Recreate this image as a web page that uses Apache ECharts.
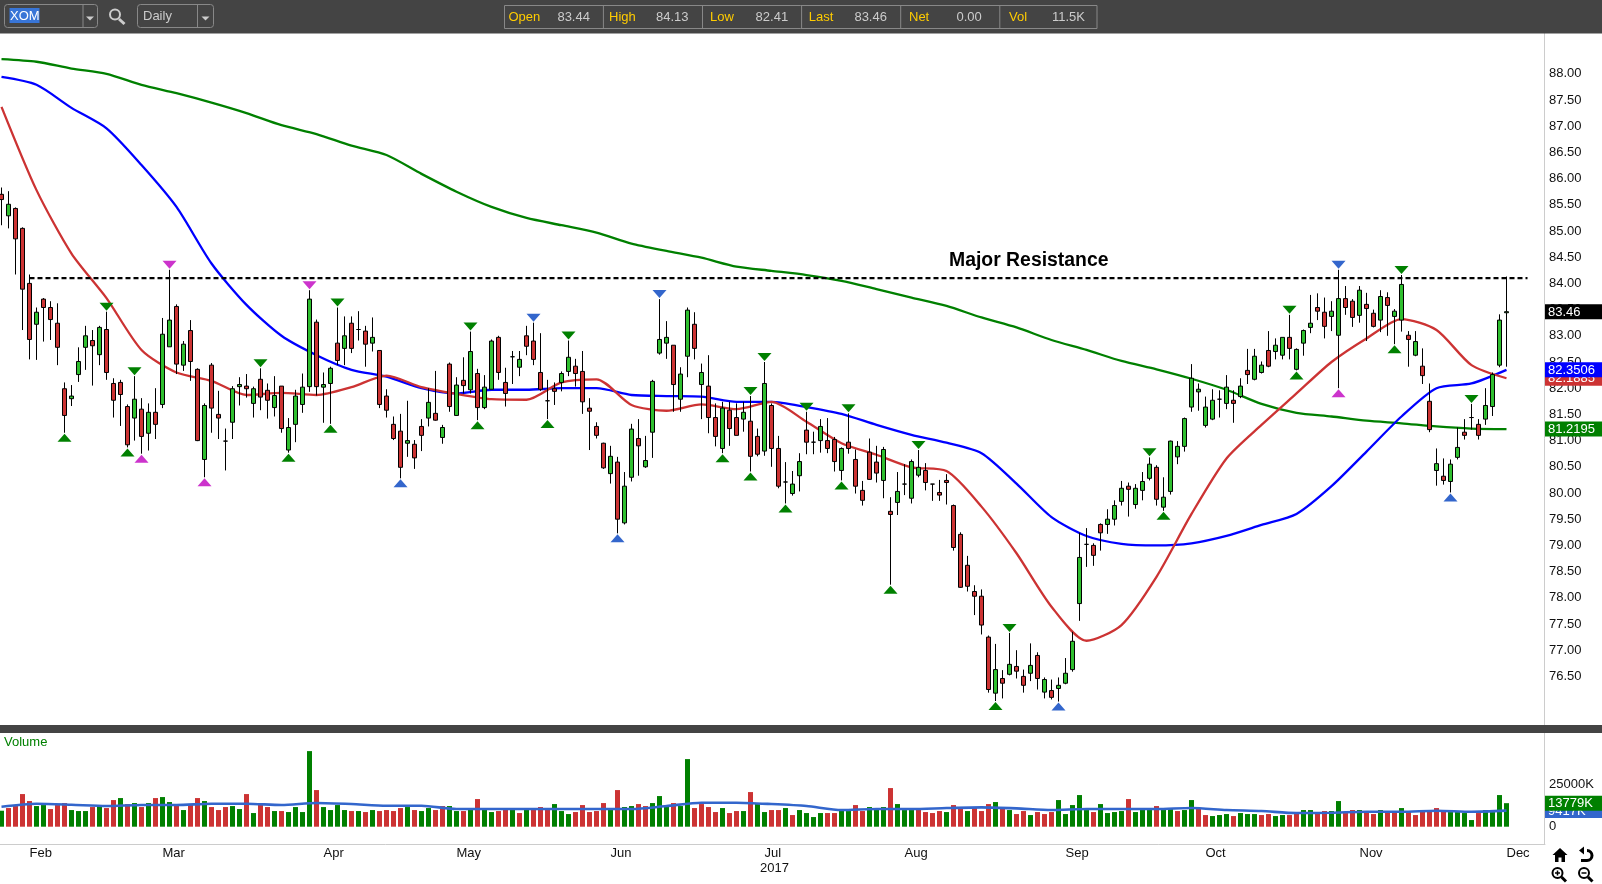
<!DOCTYPE html>
<html><head><meta charset="utf-8">
<style>html,body{margin:0;padding:0;background:#fff}#c{width:1602px;height:884px}</style>
<script src="https://cdn.jsdelivr.net/npm/echarts@6/dist/echarts.min.js"></script>
</head><body><div id="c"></div>
<script>
const tradingDaysPerMonth = [['Jan',4],['Feb',19],['Mar',23],['Apr',19],['May',22],['Jun',22],['Jul',20],['Aug',23],['Sep',20],['Oct',22],['Nov',21],['Dec',1]];
const emptySlotsOnRight = 5;
const open = [85.70,85.29,85.43,85.05,84.00,83.22,83.70,83.54,83.24,81.99,
81.80,82.26,82.78,82.91,82.64,83.12,82.09,82.11,81.65,81.43,
81.60,81.14,81.54,81.69,82.79,83.56,82.44,83.10,82.36,80.64,
82.44,81.50,80.99,81.35,82.03,82.04,81.71,82.17,81.96,81.63,
82.04,80.82,81.31,81.69,82.03,83.26,82.02,82.09,82.86,82.76,
83.24,83.12,83.09,82.86,82.72,81.85,81.31,81.18,80.95,80.93,
81.27,81.43,81.52,81.06,82.46,81.48,82.15,81.97,82.28,81.63,
81.98,82.97,82.11,82.60,82.40,83.00,82.90,82.30,81.76,81.99,
82.11,82.32,82.42,82.32,81.62,81.27,80.95,80.37,80.59,79.43,
80.30,81.04,80.50,81.16,82.67,82.86,82.82,81.79,82.61,83.22,
82.07,82.04,81.44,80.85,81.58,81.44,81.41,81.37,81.08,80.80,
81.67,80.85,80.21,79.99,80.33,81.20,80.97,81.00,81.00,81.02,
80.43,80.97,80.64,80.05,80.78,80.59,80.24,79.65,79.82,80.17,
79.90,80.34,80.43,80.17,80.01,80.24,79.76,79.21,78.62,78.12,
78.03,77.25,76.18,76.46,76.54,76.69,76.50,76.56,76.90,76.20,
76.23,76.27,76.37,76.63,77.89,79.02,79.00,79.40,79.40,79.50,
79.84,80.13,79.78,80.05,80.28,80.49,79.73,80.03,80.69,80.89,
81.64,81.93,81.29,81.41,81.79,81.71,81.77,81.84,82.34,82.17,
82.30,82.72,82.70,82.63,82.97,82.36,82.86,83.16,83.54,83.45,
83.37,83.01,83.71,83.66,83.39,83.60,83.43,83.30,83.73,83.37,
83.30,83.01,82.63,82.42,81.75,80.43,80.32,80.22,80.68,81.16,
81.44,81.31,81.41,81.65,82.44,83.44];
const close = [85.60,85.51,84.85,83.89,82.93,83.45,83.54,83.31,82.78,81.48,
81.85,82.51,83.00,82.81,83.16,82.30,81.77,81.88,80.92,81.79,
81.08,81.54,81.31,83.03,83.30,82.46,82.84,82.51,81.00,81.67,
81.62,81.43,80.99,81.99,82.07,81.99,81.99,81.83,81.77,81.86,
81.23,81.25,81.85,82.02,83.70,82.03,82.07,82.38,82.53,83.00,
82.76,83.12,82.84,82.97,81.69,81.58,81.04,80.49,81.00,80.67,
81.10,81.73,81.39,81.25,81.65,82.06,82.05,82.70,81.63,82.02,
82.90,82.30,81.90,82.60,82.55,82.80,82.55,81.98,81.76,81.94,
82.28,82.59,82.28,81.74,81.56,81.10,80.48,80.70,79.50,80.13,
81.22,80.90,80.62,82.13,82.93,82.97,82.07,82.27,83.49,82.76,
82.30,81.44,81.08,81.62,81.23,81.10,81.54,80.70,80.74,82.09,
80.85,80.13,80.21,80.17,80.60,80.97,80.97,81.27,80.85,80.60,
80.85,80.85,80.13,79.86,80.26,80.38,80.83,79.59,80.03,80.17,
80.60,80.49,80.20,80.17,79.96,80.20,78.96,78.20,78.22,78.03,
77.48,76.25,76.63,76.37,76.73,76.60,76.33,76.71,76.46,76.44,
76.10,76.33,76.56,77.17,78.77,79.02,78.81,79.24,79.50,79.76,
80.09,80.07,80.09,80.22,80.55,79.88,79.92,80.99,80.89,81.42,
82.19,81.98,81.64,81.77,81.79,82.02,81.71,82.04,82.26,82.61,
82.44,82.42,82.82,82.97,82.76,82.74,83.10,83.24,83.47,83.18,
83.47,83.71,83.54,83.35,83.87,83.52,83.18,83.75,83.58,83.47,
83.98,82.93,82.89,82.24,81.21,80.56,80.24,80.55,80.87,81.10,
81.44,81.10,81.67,82.26,83.30,83.46];
const high = [85.83,85.76,85.45,85.07,84.17,83.54,83.72,83.66,83.62,82.11,
82.06,82.78,83.19,83.11,83.19,83.46,82.19,82.16,81.69,82.23,
81.81,81.71,82.00,83.34,84.26,83.60,82.90,83.30,82.38,81.71,
82.48,81.95,81.23,82.04,82.21,82.27,82.03,82.38,82.09,82.23,
82.04,81.43,81.97,82.28,83.87,83.31,82.30,82.41,83.54,83.37,
83.37,83.47,83.19,83.35,82.72,81.98,81.46,81.51,81.76,81.01,
81.41,82.00,82.33,81.30,82.49,82.21,82.59,83.08,82.37,82.25,
82.93,83.00,82.39,82.71,82.71,83.19,83.25,83.05,82.16,82.11,
82.32,82.91,82.56,82.71,81.81,81.35,80.96,80.90,80.69,80.40,
81.32,81.41,81.09,82.16,83.70,83.28,82.82,82.40,83.54,83.45,
82.47,82.63,81.71,81.74,81.74,81.71,81.74,81.85,81.23,82.50,
81.71,81.09,80.59,80.42,80.76,81.55,81.17,81.41,81.43,81.07,
80.87,81.52,80.83,80.23,81.04,80.90,80.88,79.92,80.40,80.55,
80.64,80.82,80.57,80.17,80.25,80.36,79.78,79.25,78.80,78.24,
78.16,77.28,77.12,76.62,77.33,77.00,76.63,77.13,76.96,76.48,
76.44,76.48,76.85,77.35,79.24,79.33,79.04,79.42,79.69,79.86,
80.23,80.20,80.17,80.40,80.68,80.53,80.30,81.00,80.99,81.44,
82.46,82.09,81.84,81.98,81.96,82.25,81.96,82.19,82.75,82.75,
82.51,83.09,82.95,82.97,83.40,82.76,83.12,83.78,83.81,83.73,
83.66,84.26,83.95,83.70,83.95,83.82,83.50,83.87,83.83,83.51,
84.16,83.09,83.09,82.76,82.09,80.85,80.66,80.64,81.25,81.41,
81.70,81.41,82.00,82.30,83.41,84.13];
const low = [85.11,85.05,84.17,83.11,82.55,82.54,82.89,82.92,82.44,81.15,
81.66,82.12,82.35,82.05,82.44,82.16,81.44,81.28,80.87,81.00,
80.75,80.81,81.03,81.62,82.79,82.27,82.33,82.14,80.99,80.30,
81.15,81.03,80.43,81.03,81.67,81.82,81.44,81.58,81.42,81.46,
81.15,80.77,80.97,81.53,81.93,81.86,81.34,81.32,82.44,82.44,
82.67,82.91,82.41,82.70,81.62,81.44,81.01,80.28,80.69,80.46,
80.80,81.27,81.38,80.94,81.55,81.47,81.90,81.90,81.39,81.60,
81.98,82.16,81.65,82.08,82.23,82.63,82.44,81.95,81.41,81.68,
81.94,82.23,82.03,81.51,80.82,81.04,80.46,80.18,79.23,79.40,
80.22,80.33,80.48,80.67,82.64,82.56,81.55,81.55,82.21,82.55,
81.41,81.14,80.89,80.76,80.90,81.10,81.17,80.41,80.70,80.71,
80.50,80.09,79.80,79.95,80.03,80.74,80.74,80.77,80.76,80.41,
80.24,80.75,79.99,79.76,80.25,80.20,79.90,78.25,79.58,79.96,
79.80,80.30,80.05,79.85,79.85,79.78,78.90,78.19,78.12,77.67,
77.30,76.19,76.03,76.08,76.52,76.46,76.19,76.41,76.25,76.08,
76.06,76.02,76.35,76.59,77.56,78.59,78.61,78.90,79.22,79.38,
79.76,79.55,79.70,79.86,80.24,79.76,79.66,79.97,80.55,80.79,
81.55,81.57,81.25,81.39,81.44,81.60,81.34,81.81,82.08,82.15,
82.28,82.40,82.55,82.55,82.55,82.34,82.62,83.05,83.30,82.95,
83.09,82.00,83.40,83.17,83.25,82.90,83.16,83.07,83.00,82.84,
83.08,82.41,82.61,82.08,81.16,80.14,80.16,80.01,80.64,81.02,
81.21,81.02,81.30,81.47,82.40,82.41];
const volumeK = [9360,10920,12090,19110,15015,12090,12675,10335,12675,13845,
9750,9165,9165,11505,12090,10920,15600,16770,13260,13845,
11505,13845,16770,17355,14430,12675,9750,12675,16770,15015,
11505,9750,11505,12090,10335,19110,7995,13260,11505,9165,
9165,8580,11505,8580,44265,21450,11505,9750,12675,9750,
9165,9165,8580,9750,9165,9750,9165,10920,11505,9750,
9165,10920,9750,12090,12090,9165,9165,10335,16185,10335,
8580,9165,10335,10335,7995,10335,10335,11505,10335,13260,
9165,7410,8580,12675,8580,9165,13845,10335,21450,11505,
12090,13260,12090,13845,17940,12090,13845,12090,39585,10920,
13260,11505,8580,10920,7995,9165,9165,20280,13845,8580,
9750,9750,10920,6825,9750,7995,5655,7995,7995,7995,
9750,9165,12675,9165,11505,10335,11505,22620,13260,9750,
9750,10335,8580,7995,9165,8580,12675,10920,9165,10920,
9165,13260,14430,10920,9750,7410,9165,6825,8580,7410,
8580,15600,7410,12675,18525,9750,8580,13260,7995,8580,
9165,16185,8580,10335,10335,12090,10335,10335,9165,9750,
15600,10920,6825,6240,6825,7410,6240,7995,7410,7410,
6825,7410,6240,6825,6825,7995,9750,9750,7995,9165,
9165,15015,7995,9750,9750,8580,7410,9750,8580,8580,
10920,8580,6825,9165,9165,10920,9165,8580,8580,7995,
3900,7995,9750,8580,18525,13779];
const volumeDirection = ('GRRRRGGRRR'+'GGGRGRRGRG'+'RGRGGRGRRG'+'RRRGGRGRRG'+'RGGGGRGGGG'+'RGRGRRRRGR'+'GGRRGGRGRG'+'GRRGRGRRRG'+'GGRRRRRGRG'+'GRRGGGRGGR'+'RRRGRRGRGG'+'RRGRGGGGRR'+'GGRRGGGRGG'+'GRRRRGRRGR'+'RRGRGRRGRR'+'RGGGGGRGGG'+'GRGGGRGGRG'+'GRRGGGRGGG'+'RRGGRRGGRR'+'GGRRGRRGRR'+'GRRRRRRGGG'+'GRGGGG').split('');
// moving averages, every 5th session
const maReadEvery = 5;
const ma20 = [87.37,85.78,84.57,83.72,82.73,82.30,82.14,81.87,81.91,81.87,82.02,82.24,82.02,81.89,81.79,81.78,82.11,82.17,81.68,81.57,81.69,81.60,81.74,81.36,80.95,80.73,80.49,80.42,79.74,78.85,77.83,77.18,77.48,78.40,79.60,80.66,81.30,81.90,82.50,82.95,83.32,83.11,82.44,82.19];
const ma50 = [87.94,87.79,87.35,86.96,86.26,85.46,84.38,83.59,83.00,82.63,82.35,82.22,82.00,81.90,81.97,81.97,82.00,82.00,81.87,81.85,81.84,81.74,81.74,81.64,81.51,81.30,81.11,80.96,80.76,80.18,79.54,79.18,79.03,79.00,79.04,79.18,79.39,79.60,80.13,80.79,81.46,82.00,82.09,82.35];
const ma200 = [88.28,88.23,88.10,88.00,87.79,87.63,87.45,87.25,87.02,86.85,86.63,86.45,86.09,85.75,85.46,85.25,85.11,84.97,84.76,84.62,84.49,84.32,84.24,84.16,84.05,83.89,83.73,83.57,83.35,83.16,82.92,82.73,82.52,82.36,82.18,81.97,81.70,81.53,81.46,81.38,81.33,81.27,81.23,81.22];
const volumeMA = [11700,13455,12870,12090,12675,12675,13455,13455,12675,13845,13260,12285,12285,10335,10335,10335,10335,10335,10335,12090,14040,14040,13260,12090,9750,10335,10335,10920,11310,10725,9750,10335,10335,10335,10920,9750,9165,7995,8190,8775,8775,9360,8775,9417];
// pivot markers: session indexes
const upGreen = [9,18,41,47,68,78,103,107,112,120,127,142,166,185,199];
const upMagenta = [20,29,191];
const upBlue = [57,88,151,207];
const downGreen = [15,19,37,48,67,81,107,109,115,121,131,144,164,184,200,210];
const downMagenta = [24,44];
const downBlue = [76,94,191];
const resistanceLevel = 84.10, resistanceFromSession = 4, resistanceToSession = 218;
const lastValues = {price:83.46, ma20:82.1885, ma50:82.3506, ma200:81.2195, volume:13779, volumeMA:9417};
const quoteCells = [['Open','83.44'],['High','84.13'],['Low','82.41'],['Last','83.46'],['Net','0.00'],['Vol','11.5K']];

const categories = [];
tradingDaysPerMonth.forEach(([m,n]) => { for (let i=1;i<=n;i++) categories.push(m+' '+i); });
for (let i=0;i<emptySlotsOnRight;i++) categories.push('');
const monthStart = c => c.endsWith(' 1') && !c.startsWith('Jan');

const FONT = '"Liberation Sans",Arial,sans-serif';
const GREEN='#008000', RED='#cc3333', BLUE='#0000ff', MAGENTA='#cc33cc', MBLUE='#3366cc';
const sampled = a => a.map((v,i)=>[i*maReadEvery,v]);
const UP = 'triangle', DOWN = 'path://M0 0L14 0L7 8Z';
const marker = (idx, src, col, sym, off) => ({type:'scatter',xAxisIndex:0,yAxisIndex:0,z:6,silent:true,symbol:sym,symbolSize:[14,8],symbolOffset:[0,off],
  itemStyle:{color:col,opacity:1},data:idx.map(k=>[k,src[k]])});
const line = (data,col,z,xi,yi,w) => ({type:'line',xAxisIndex:xi,yAxisIndex:yi,data,showSymbol:false,symbol:'none',silent:true,z,
  lineStyle:{color:col,width:w||2.3},smooth:0.25});

const chart = echarts.init(document.getElementById('c'),null,{renderer:'canvas',width:1602,height:884});
const gridLeft=-2, gridW=7*categories.length;
chart.setOption({
  animation:false, backgroundColor:'#fff', tooltip:{show:false}, legend:{show:false},
  grid:[{left:gridLeft,top:21.4,width:gridW,height:707.4,outerBoundsMode:'none'},{left:gridLeft,top:741.3,width:gridW,height:85.4,outerBoundsMode:'none'}],
  xAxis:[
    {type:'category',gridIndex:0,data:categories,show:false,boundaryGap:true},
    {type:'category',gridIndex:1,data:categories,boundaryGap:true,position:'bottom',offset:17.5,
     axisLine:{show:true,onZero:false,lineStyle:{color:'#cccccc',width:1}},axisTick:{show:false},
     axisLabel:{show:true,interval:(i,v)=>monthStart(v),align:'left',margin:3,color:'#111',fontFamily:FONT,fontSize:13,hideOverlap:false,
       formatter:v=>monthStart(v)?v.split(' ')[0]:''}}
  ],
  yAxis:[
    {type:'value',gridIndex:0,position:'right',min:75.5,max:89,interval:0.5,scale:true,splitLine:{show:false},axisLine:{show:false},axisTick:{show:false},
     axisLabel:{margin:4,color:'#111',fontFamily:FONT,fontSize:13,align:'left',padding:[2,0,0,0],showMinLabel:true,showMaxLabel:true,
       formatter:v=>(v>=76.5&&v<=88)?v.toFixed(2):''}},
    {type:'value',gridIndex:1,position:'right',min:0,max:50000,interval:25000,splitLine:{show:false},axisLine:{show:false},axisTick:{show:false},
     axisLabel:{margin:4,color:'#111',fontFamily:FONT,fontSize:13,align:'left',padding:[2,0,0,0],formatter:v=>v>=50000?'':(v===0?'0':v+'K')}}
  ],
  series:[
    line(sampled(ma200),GREEN,2,0,0),
    line(sampled(ma50),BLUE,2,0,0),
    line(sampled(ma20),RED,2,0,0),
    {type:'line',xAxisIndex:0,yAxisIndex:0,silent:true,showSymbol:false,symbol:'none',z:3,
     lineStyle:{color:'#000',width:2.2,type:[5,3]},data:[[resistanceFromSession,resistanceLevel],[resistanceToSession,resistanceLevel]]},
    {type:'candlestick',xAxisIndex:0,yAxisIndex:0,z:4,silent:true,barWidth:5,
     itemStyle:{color:'#2fbf2f',color0:RED,borderColor:'#000',borderColor0:'#000',borderColorDoji:'#000',borderWidth:1},
     data:open.map((o,i)=>[o,close[i],low[i],high[i]])},
    marker(upGreen,low,GREEN,UP,5), marker(upMagenta,low,MAGENTA,UP,5), marker(upBlue,low,MBLUE,UP,5),
    marker(downGreen,high,GREEN,DOWN,-5), marker(downMagenta,high,MAGENTA,DOWN,-5), marker(downBlue,high,MBLUE,DOWN,-5),
    {type:'bar',xAxisIndex:1,yAxisIndex:1,silent:true,barWidth:5,z:2,
     data:volumeK.map((v,i)=>({value:v,itemStyle:{color:volumeDirection[i]==='G'?GREEN:RED}}))},
    line(sampled(volumeMA),MBLUE,3,1,1,2.6)
  ]
});

// ---- chrome: toolbar, separators, value flags, icons
const yPrice = v => chart.convertToPixel({yAxisIndex:0},v);
const yVol = v => chart.convertToPixel({yAxisIndex:1},v);
const Z=100, g=[];
const rect=(x,y,w,h,fill,extra)=>g.push({type:'rect',z:(extra&&extra.z)||Z,shape:{x,y,width:w,height:h,r:(extra&&extra.r)||0},style:{fill:fill,stroke:(extra&&extra.stroke)||null,lineWidth:1},silent:true});
const text=(x,y,t,fill,size,extra)=>g.push({type:'text',z:(extra&&extra.z)||Z+2,x,y,silent:true,style:Object.assign({text:t,fill,font:((extra&&extra.weight)||'normal')+' '+size+'px '+FONT,verticalAlign:'middle',align:'left'},{})});
const ln=(x1,y1,x2,y2,col,w,z)=>g.push({type:'line',z:z||Z+1,silent:true,shape:{x1,y1,x2,y2},style:{stroke:col,lineWidth:w||1}});
const poly=(pts,fill,z)=>g.push({type:'polygon',z:z||Z+1,silent:true,shape:{points:pts},style:{fill}});
const circ=(cx,cy,r,col,w)=>g.push({type:'circle',z:Z+1,silent:true,shape:{cx,cy,r},style:{fill:'none',stroke:col,lineWidth:w}});

rect(0,0,1602,33.5,'#444444');
rect(0,725,1602,8,'#444444');
ln(1544.5,33,1544.5,844,'#cccccc',1,1);
// symbol box
rect(4.5,4.5,93,23,'#444444',{stroke:'#888',r:3,z:Z+1});
ln(83,5,83,27,'#888');
rect(9.5,8,30,15,'#3875d7',{z:Z+1});
text(10,16,'XOM','#ffffff',13);
poly([[86,16.5],[94,16.5],[90,20.5]],'#cccccc');
circ(115,14.5,5,'#cccccc',2); ln(119,19,124.5,24,'#cccccc',3);
rect(137.5,4.5,76,23,'#444444',{stroke:'#888',r:3,z:Z+1});
ln(197.5,5,197.5,27,'#888');
text(143,16,'Daily','#cccccc',13);
poly([[201.5,16.5],[209.5,16.5],[205.5,20.5]],'#cccccc');
// quote cells
rect(504.5,5.5,592.5,23,'#444444',{stroke:'#888',z:Z+1});
const cellW=99.1, labelX=[508.4,609,710,808.8,909,1009], valX=[557.4,656,755.6,854.4,956.5,1052];
quoteCells.forEach(([a,b],i)=>{
  if(i) ln(504.5+cellW*i-0.2,6,504.5+cellW*i-0.2,28,'#888');
  text(labelX[i],17.5,a,'#ffcc00',13);
  text(valX[i],17.5,b,'#cccccc',13);
});
text(4,742.5,'Volume',GREEN,13,{z:Z});
text(949,261,'Major Resistance','#000',19.4,{weight:'bold',z:Z});
text(760,868,'2017','#111',13,{z:Z});
// value flags (blue over red)
const flag=(y,col,t,z)=>{rect(1545,y-7.5,57,15,col,{z});g.push({type:'text',z:z+1,x:1548,y:y+0.5,silent:true,style:{text:t,fill:'#fff',font:'13px '+FONT,verticalAlign:'middle',align:'left'}});};
flag(yPrice(lastValues.ma20),RED,lastValues.ma20.toFixed(4),Z+3);
flag(yPrice(lastValues.ma50),BLUE,lastValues.ma50.toFixed(4),Z+5);
flag(yPrice(lastValues.ma200),GREEN,lastValues.ma200.toFixed(4),Z+3);
flag(yPrice(lastValues.price),'#000',lastValues.price.toFixed(2),Z+3);
flag(yVol(lastValues.volumeMA),MBLUE,lastValues.volumeMA+'K',Z+3);
flag(yVol(lastValues.volume),GREEN,lastValues.volume+'K',Z+5);
// bottom-right icons
poly([[1560,848],[1552.5,855],[1555,855],[1555,862],[1558.5,862],[1558.5,857.5],[1561.5,857.5],[1561.5,862],[1565,862],[1565,855],[1567.5,855]],'#000');
g.push({type:'arc',z:Z+1,silent:true,shape:{cx:1587,cy:855.5,r:5,startAngle:-Math.PI/2,endAngle:Math.PI/2,clockwise:true},style:{fill:'none',stroke:'#000',lineWidth:3}});
ln(1581,860.5,1587,860.5,'#000',3); poly([[1579,850.5],[1584,846.5],[1584,854.5]],'#000');
circ(1557.5,873,5,'#000',2); ln(1561.5,877,1566,881.5,'#000',3); ln(1555,873,1560,873,'#000',1.5); ln(1557.5,870.5,1557.5,875.5,'#000',1.5);
circ(1584,873,5,'#000',2); ln(1588,877,1592.5,881.5,'#000',3); ln(1581.5,873,1586.5,873,'#000',1.5);
chart.setOption({graphic:{elements:g}});
</script></body></html>
